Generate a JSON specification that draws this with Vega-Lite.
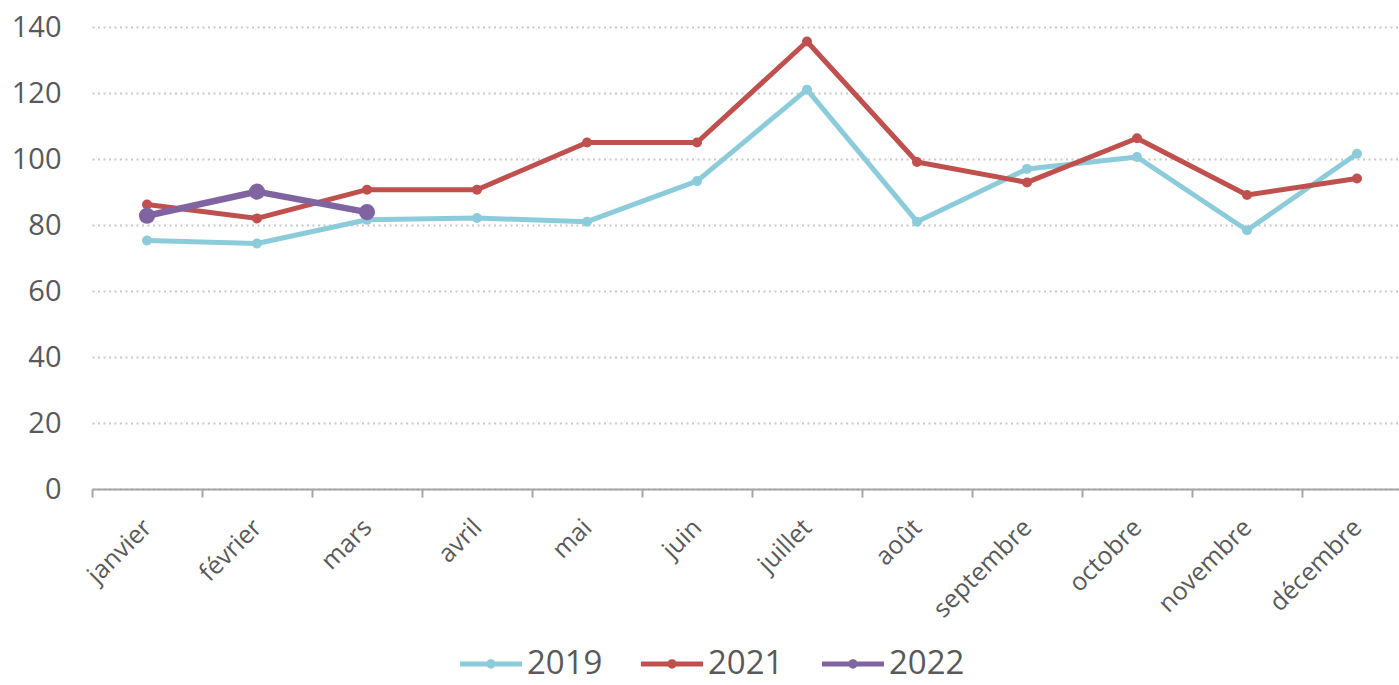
{
  "$schema": "https://vega.github.io/schema/vega-lite/v6.json",
  "autosize": "none",
  "width": 1307,
  "height": 462,
  "padding": {"left": 92, "top": 27, "right": 0, "bottom": 196},
  "background": "white",
  "config": {
    "view": {"stroke": null},
    "font": "Open Sans"
  },
  "data": {
    "values": [
      {"month": "janvier", "year": "2019", "value": 75.3},
      {"month": "février", "year": "2019", "value": 74.4},
      {"month": "mars", "year": "2019", "value": 81.6},
      {"month": "avril", "year": "2019", "value": 82.1},
      {"month": "mai", "year": "2019", "value": 81.0},
      {"month": "juin", "year": "2019", "value": 93.3},
      {"month": "juillet", "year": "2019", "value": 121.0},
      {"month": "août", "year": "2019", "value": 81.0},
      {"month": "septembre", "year": "2019", "value": 97.0},
      {"month": "octobre", "year": "2019", "value": 100.6},
      {"month": "novembre", "year": "2019", "value": 78.4},
      {"month": "décembre", "year": "2019", "value": 101.6},
      {"month": "janvier", "year": "2021", "value": 86.2},
      {"month": "février", "year": "2021", "value": 82.0},
      {"month": "mars", "year": "2021", "value": 90.7},
      {"month": "avril", "year": "2021", "value": 90.7},
      {"month": "mai", "year": "2021", "value": 105.0},
      {"month": "juin", "year": "2021", "value": 105.0},
      {"month": "juillet", "year": "2021", "value": 135.6},
      {"month": "août", "year": "2021", "value": 99.1},
      {"month": "septembre", "year": "2021", "value": 92.9},
      {"month": "octobre", "year": "2021", "value": 106.3},
      {"month": "novembre", "year": "2021", "value": 89.1},
      {"month": "décembre", "year": "2021", "value": 94.1},
      {"month": "janvier", "year": "2022", "value": 82.8},
      {"month": "février", "year": "2022", "value": 90.1},
      {"month": "mars", "year": "2022", "value": 83.9}
    ]
  },
  "encoding": {
    "x": {
      "field": "month",
      "type": "nominal",
      "sort": ["janvier", "février", "mars", "avril", "mai", "juin", "juillet", "août", "septembre", "octobre", "novembre", "décembre"],
      "bandPosition": 0.5,
      "scale": {"type": "band", "range": [0, 1320], "paddingInner": 0, "paddingOuter": 0},
      "axis": {
        "title": null,
        "tickBand": "extent",
        "domainColor": "#A6A6A6",
        "domainWidth": 2,
        "tickColor": "#A6A6A6",
        "tickWidth": 2,
        "tickSize": 8,
        "labelAngle": -45,
        "labelAlign": "right",
        "labelBaseline": "middle",
        "labelPadding": 26,
        "labelFont": "Open Sans",
        "labelFontSize": 25,
        "labelColor": "#595959",
        "grid": false
      }
    },
    "y": {
      "field": "value",
      "type": "quantitative",
      "scale": {"domain": [0, 140], "nice": false},
      "axis": {
        "title": null,
        "values": [0, 20, 40, 60, 80, 100, 120, 140],
        "domain": false,
        "ticks": false,
        "labelPadding": 31,
        "labelFont": "Open Sans",
        "labelFontSize": 29,
        "labelColor": "#595959",
        "grid": true,
        "gridColor": "#C8C8C8",
        "gridWidth": 2,
        "gridDash": [2, 3.5]
      }
    },
    "color": {
      "field": "year",
      "type": "nominal",
      "scale": {"domain": ["2019", "2021", "2022"], "range": ["#8CCBDA", "#C0504D", "#8064A2"]},
      "legend": {
        "title": null,
        "orient": "none",
        "direction": "horizontal",
        "legendX": 368,
        "legendY": 606,
        "symbolType": "M-1,-0.08L1,-0.08L1,0.08L-1,0.08Z M0.15,0A0.15,0.15,0,1,1,-0.15,0A0.15,0.15,0,1,1,0.15,0Z",
        "symbolSize": 3844,
        "symbolStrokeWidth": 0,
        "labelFont": "Open Sans",
        "labelFontSize": 33,
        "labelColor": "#595959",
        "labelOffset": 5,
        "columnPadding": 38,
        "labelLimit": 0,
        "encode": {
          "symbols": {
            "update": {
              "shape": {"value": "M-1,-0.08L1,-0.08L1,0.08L-1,0.08Z M0.15,0A0.15,0.15,0,1,1,-0.15,0A0.15,0.15,0,1,1,0.15,0Z"},
              "size": {"value": 3844},
              "fill": {"scale": "color", "field": "value"},
              "stroke": {"value": "transparent"},
              "strokeWidth": {"value": 0},
              "opacity": {"value": 1}
            }
          }
        }
      }
    }
  },
  "layer": [
    {
      "transform": [{"filter": "datum.year != '2022'"}],
      "mark": {"type": "line", "strokeWidth": 5, "strokeCap": "round", "strokeJoin": "round"}
    },
    {
      "transform": [{"filter": "datum.year != '2022'"}],
      "mark": {"type": "point", "filled": true, "opacity": 1, "shape": "circle", "size": 100}
    },
    {
      "transform": [{"filter": "datum.year == '2022'"}],
      "mark": {"type": "line", "strokeWidth": 6.5, "strokeCap": "round", "strokeJoin": "round"}
    },
    {
      "transform": [{"filter": "datum.year == '2022'"}],
      "mark": {"type": "point", "filled": true, "opacity": 1, "shape": "circle", "size": 260}
    }
  ]
}
